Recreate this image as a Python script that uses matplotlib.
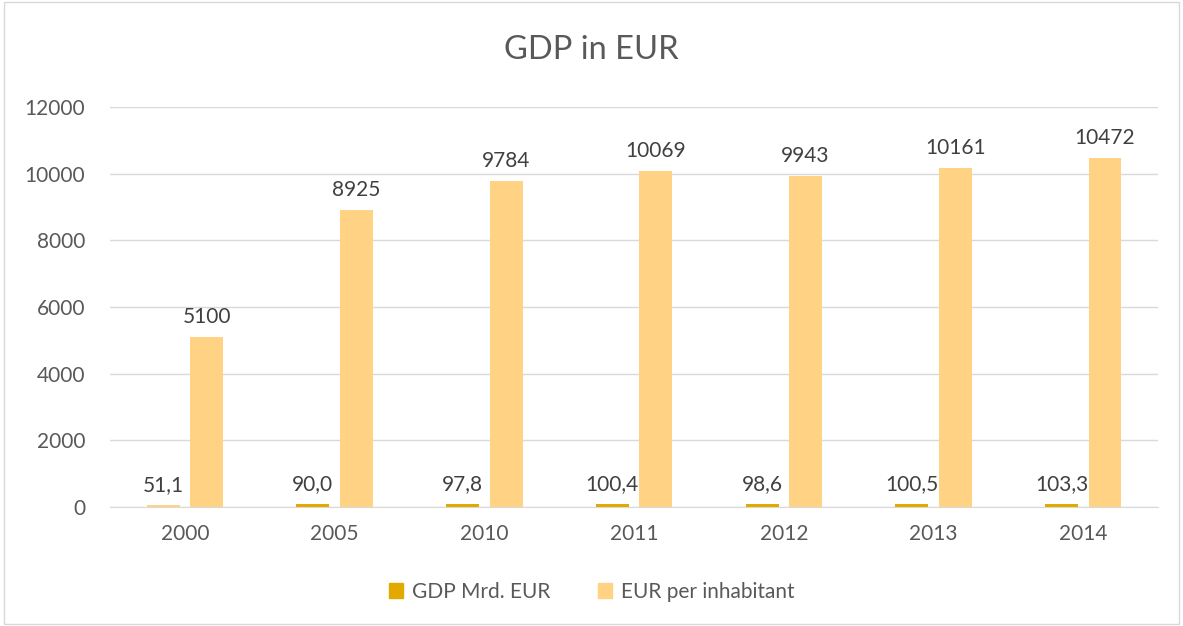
import matplotlib.pyplot as plt
import numpy as np

plt.rcParams['font.family'] = ['Lato', 'DejaVu Sans']

years = ['2000', '2005', '2010', '2011', '2012', '2013', '2014']
gdp_mrd = [51.1, 90.0, 97.8, 100.4, 98.6, 100.5, 103.3]
eur_per_inhabitant = [5100, 8925, 9784, 10069, 9943, 10161, 10472]

c_gdp = '#E2AA00'
c_inh = '#FFD284'
txt = '#404040'

fig = plt.figure(figsize=(11.83, 6.26), dpi=100)
ax = fig.add_axes([0.093, 0.19, 0.886, 0.639])

x = np.arange(len(years))
w = 0.22
gdp_cols = [c_inh] + [c_gdp] * (len(years) - 1)
b1 = ax.bar(x - 0.145, gdp_mrd, w, color=gdp_cols, label='GDP Mrd. EUR', zorder=3)
b2 = ax.bar(x + 0.145, eur_per_inhabitant, w, color=c_inh, label='EUR per inhabitant', zorder=3)

for xi, v in zip(x, gdp_mrd):
    ax.text(xi - 0.145, v + 300, f'{v:.1f}'.replace('.', ','), ha='center', va='bottom',
            fontsize=15, color=txt)
for xi, v in zip(x, eur_per_inhabitant):
    ax.text(xi + 0.145, v + 300, str(v), ha='center', va='bottom', fontsize=15, color=txt)

ax.set_xlim(-0.5, len(years) - 0.5)
ax.set_ylim(0, 12000)
ax.set_yticks(range(0, 12001, 2000))
ax.set_xticks(x)
ax.set_xticklabels(years)
ax.grid(axis='y', color='#D9D9D9', linewidth=1, zorder=0)
for s in ['top', 'right', 'left']:
    ax.spines[s].set_visible(False)
ax.spines['bottom'].set_color('#D9D9D9')
ax.tick_params(axis='both', length=0, labelsize=15, labelcolor='#595959', pad=12)
ax.tick_params(axis='y', pad=18)

fig.text(0.5, 0.92, 'GDP in EUR', ha='center', va='center', fontsize=23.5, color='#595959')

handles = [plt.Rectangle((0, 0), 1, 1, color=c_gdp), plt.Rectangle((0, 0), 1, 1, color=c_inh)]
fig.legend(handles, ['GDP Mrd. EUR', 'EUR per inhabitant'], loc='center', bbox_to_anchor=(0.5, 0.055),
           ncol=2, frameon=False, fontsize=15, handlelength=0.7, handleheight=0.7,
           columnspacing=2.3, handletextpad=0.4, labelcolor='#595959')

fig.patches.append(plt.Rectangle((0.003, 0.003), 0.994, 0.994, transform=fig.transFigure,
                                 fill=False, edgecolor='#D9D9D9', linewidth=1))

fig.savefig('out.png', dpi=100)
